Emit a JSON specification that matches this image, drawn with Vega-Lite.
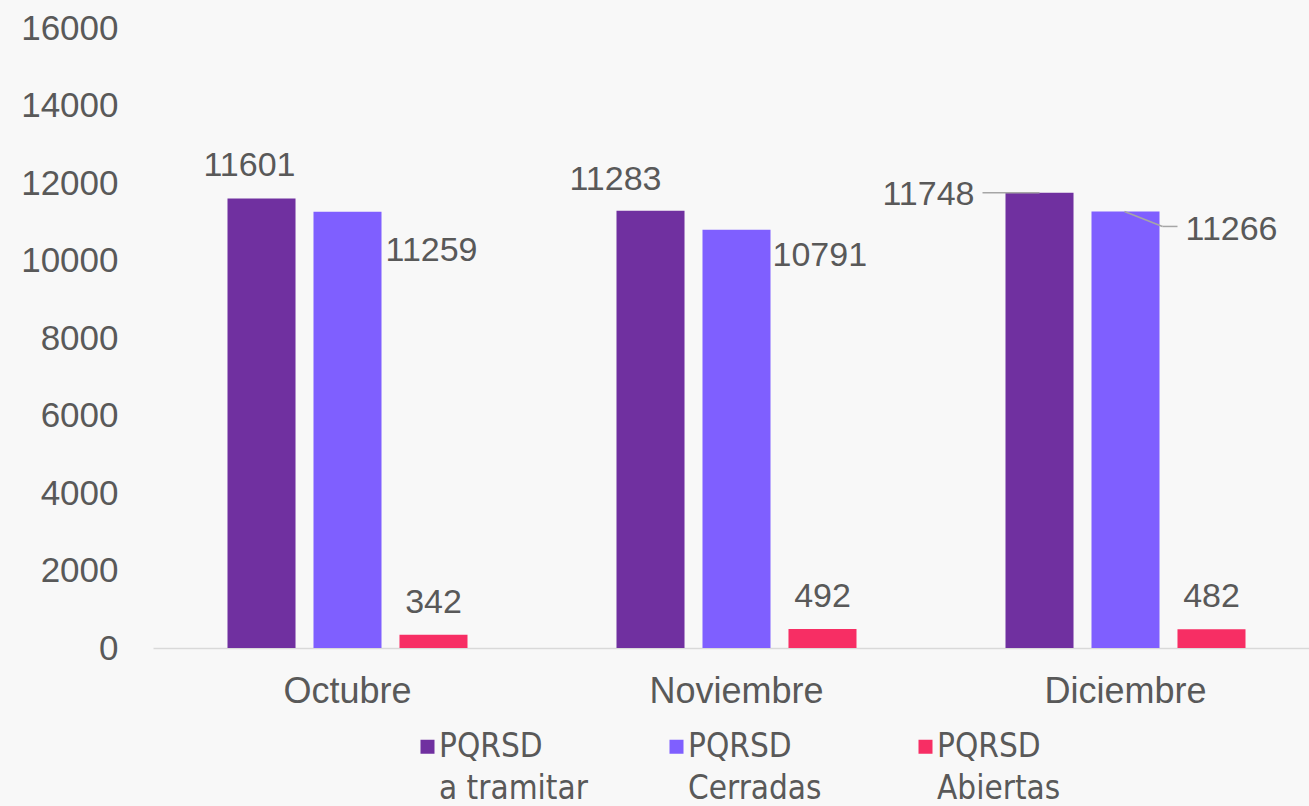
{
  "$schema": "https://vega.github.io/schema/vega-lite/v6.json",
  "width": 1156,
  "height": 620,
  "autosize": {"type": "none"},
  "padding": {"left": 153, "top": 28, "right": 0, "bottom": 158},
  "background": "#f8f8f8",
  "data": {
    "values": [
      {"month": "Octubre", "series": "PQRSD a tramitar", "value": 11601},
      {"month": "Octubre", "series": "PQRSD Cerradas", "value": 11259},
      {"month": "Octubre", "series": "PQRSD Abiertas", "value": 342},
      {"month": "Noviembre", "series": "PQRSD a tramitar", "value": 11283},
      {"month": "Noviembre", "series": "PQRSD Cerradas", "value": 10791},
      {"month": "Noviembre", "series": "PQRSD Abiertas", "value": 492},
      {"month": "Diciembre", "series": "PQRSD a tramitar", "value": 11748},
      {"month": "Diciembre", "series": "PQRSD Cerradas", "value": 11266},
      {"month": "Diciembre", "series": "PQRSD Abiertas", "value": 482}
    ]
  },
  "encoding": {
    "x": {
      "field": "month", "type": "nominal", "sort": ["Octubre", "Noviembre", "Diciembre"],
      "scale": {"type": "band", "paddingInner": 0.383, "paddingOuter": 0.1915, "range": [0, 1167]},
      "axis": {"title": null, "labelAngle": 0, "ticks": false, "domainColor": "#d9d9d9", "domainWidth": 1.5, "labelFontSize": 36, "labelPadding": 26, "labelColor": "#595959", "labelFont": "Liberation Sans", "grid": false}
    },
    "xOffset": {
      "field": "series", "type": "nominal", "sort": ["PQRSD a tramitar", "PQRSD Cerradas", "PQRSD Abiertas"],
      "scale": {"paddingInner": 0.209, "paddingOuter": 0}
    },
    "y": {
      "field": "value", "type": "quantitative",
      "scale": {"domain": [0, 16000], "nice": false},
      "axis": {"title": null, "format": "d", "values": [0, 2000, 4000, 6000, 8000, 10000, 12000, 14000, 16000], "domain": false, "ticks": false, "grid": false, "labelFontSize": 35, "labelPadding": 35, "labelColor": "#595959", "labelFont": "Liberation Sans"}
    }
  },
  "layer": [
    {
      "mark": {"type": "bar"},
      "encoding": {
        "color": {
          "field": "series", "type": "nominal",
          "scale": {"domain": ["PQRSD a tramitar", "PQRSD Cerradas", "PQRSD Abiertas"], "range": ["#7030A0", "#7F5FFF", "#F72E64"]},
          "legend": {
            "title": null, "orient": "none", "legendX": 258, "legendY": 702, "direction": "horizontal", "columns": 3,
            "gridAlign": "all", "columnPadding": 72, "padding": 0,
            "symbolType": "square", "symbolSize": 196, "symbolStrokeWidth": 0, "symbolOpacity": 1,
            "labelFont": "Liberation Sans Narrow, Arial Narrow, DejaVu Sans Condensed, sans-serif",
            "labelFontSize": 33, "labelColor": "#595959", "labelOffset": -5, "labelLimit": 400,
            "labelExpr": "[substring(datum.label, 0, 5), substring(datum.label, 6)]",
            "encode": {"labels": {"update": {"dy": {"value": 0}, "lineHeight": {"value": 42}}}}
          }
        }
      }
    },
    {
      "transform": [{"filter": "datum.series === 'PQRSD Abiertas'"}],
      "mark": {"type": "text", "dy": -32, "baseline": "middle", "align": "center", "fontSize": 34, "font": "Liberation Sans", "color": "#595959"},
      "encoding": {"text": {"field": "value", "type": "quantitative"}}
    },
    {
      "transform": [{"filter": "datum.series === 'PQRSD a tramitar' && datum.month === 'Octubre'"}],
      "mark": {"type": "text", "dx": -12, "dy": -32, "baseline": "middle", "align": "center", "fontSize": 34, "font": "Liberation Sans", "color": "#595959"},
      "encoding": {"text": {"field": "value", "type": "quantitative"}}
    },
    {
      "transform": [{"filter": "datum.series === 'PQRSD a tramitar' && datum.month === 'Noviembre'"}],
      "mark": {"type": "text", "dx": -35, "dy": -31, "baseline": "middle", "align": "center", "fontSize": 34, "font": "Liberation Sans", "color": "#595959"},
      "encoding": {"text": {"field": "value", "type": "quantitative"}}
    },
    {
      "transform": [{"filter": "datum.series === 'PQRSD a tramitar' && datum.month === 'Diciembre'"}],
      "mark": {"type": "text", "dx": -65, "dy": 2, "baseline": "middle", "align": "right", "fontSize": 34, "font": "Liberation Sans", "color": "#595959"},
      "encoding": {"text": {"field": "value", "type": "quantitative"}}
    },
    {
      "transform": [{"filter": "datum.series === 'PQRSD Cerradas' && datum.month === 'Octubre'"}],
      "mark": {"type": "text", "dx": 38, "dy": 39, "baseline": "middle", "align": "left", "fontSize": 34, "font": "Liberation Sans", "color": "#595959"},
      "encoding": {"text": {"field": "value", "type": "quantitative"}}
    },
    {
      "transform": [{"filter": "datum.series === 'PQRSD Cerradas' && datum.month === 'Noviembre'"}],
      "mark": {"type": "text", "dx": 36, "dy": 26, "baseline": "middle", "align": "left", "fontSize": 34, "font": "Liberation Sans", "color": "#595959"},
      "encoding": {"text": {"field": "value", "type": "quantitative"}}
    },
    {
      "transform": [{"filter": "datum.series === 'PQRSD Cerradas' && datum.month === 'Diciembre'"}],
      "mark": {"type": "text", "dx": 60, "dy": 19, "baseline": "middle", "align": "left", "fontSize": 34, "font": "Liberation Sans", "color": "#595959"},
      "encoding": {"text": {"field": "value", "type": "quantitative"}}
    },
    {
      "transform": [{"filter": "datum.series === 'PQRSD a tramitar' && datum.month === 'Diciembre'"}],
      "mark": {"type": "rule", "color": "#a6a6a6", "strokeWidth": 1.5, "xOffset": -143, "x2Offset": -86},
      "encoding": {
        "xOffset": null,
        "x2": {"field": "month"}
      }
    },
    {
      "transform": [{"filter": "datum.series === 'PQRSD Cerradas' && datum.month === 'Diciembre'"}],
      "mark": {"type": "rule", "color": "#a6a6a6", "strokeWidth": 1.5, "xOffset": -1, "x2Offset": 37, "y2Offset": 15},
      "encoding": {
        "xOffset": null,
        "x2": {"field": "month"},
        "y2": {"field": "value"}
      }
    },
    {
      "transform": [{"filter": "datum.series === 'PQRSD Cerradas' && datum.month === 'Diciembre'"}],
      "mark": {"type": "rule", "color": "#a6a6a6", "strokeWidth": 1.5, "xOffset": 37, "x2Offset": 52, "yOffset": 15},
      "encoding": {
        "xOffset": null,
        "x2": {"field": "month"}
      }
    }
  ],
  "config": {
    "view": {"stroke": null},
    "font": "Liberation Sans"
  }
}
